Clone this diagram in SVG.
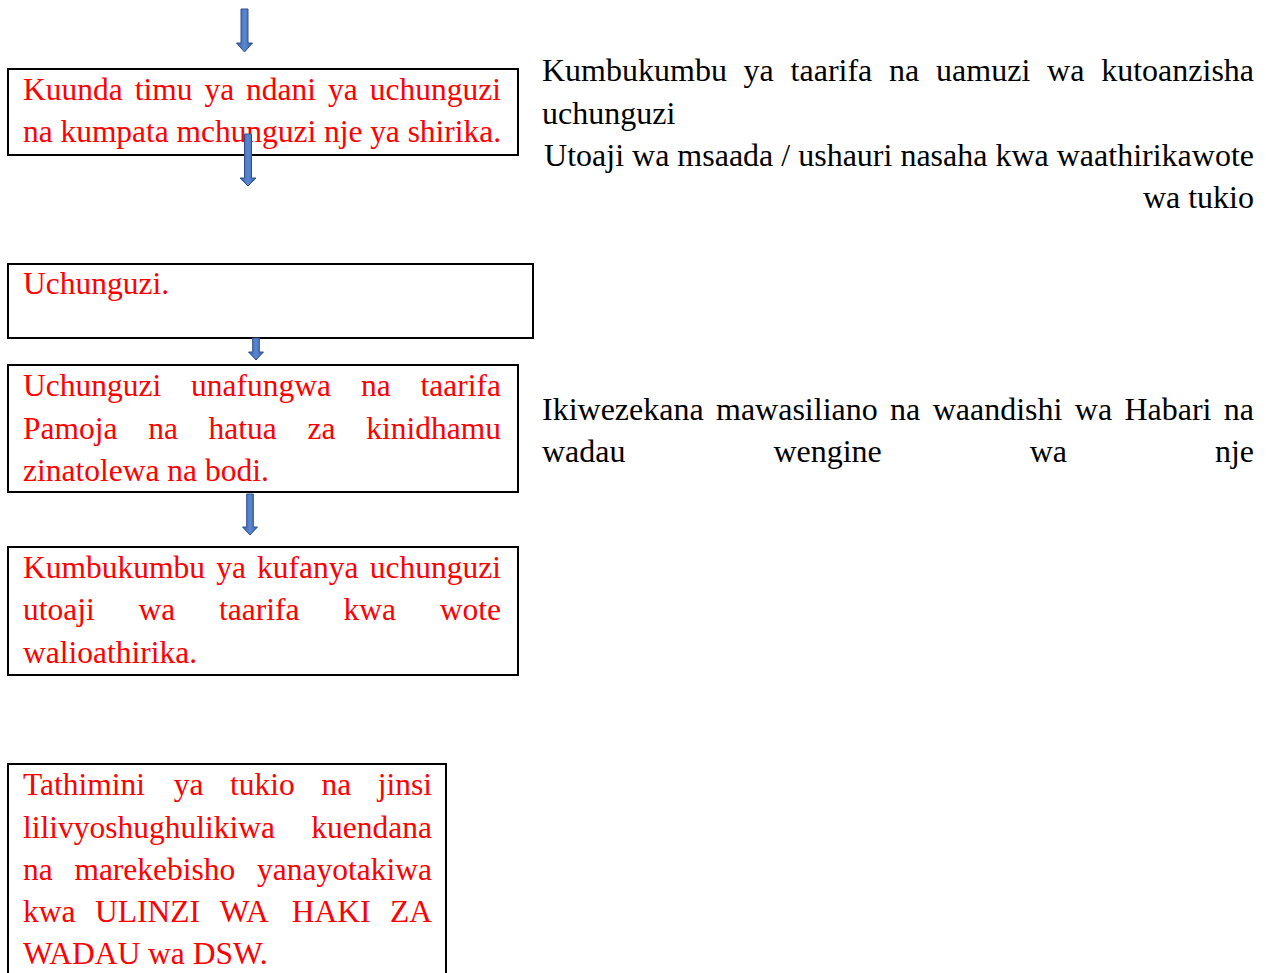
<svg xmlns="http://www.w3.org/2000/svg" width="1266" height="973" viewBox="0 0 1266 973">
<defs>
<linearGradient id="arrowGrad" x1="0" y1="0" x2="1" y2="0">
<stop offset="0" stop-color="#3560ab"/>
<stop offset="0.5" stop-color="#5b86d0"/>
<stop offset="1" stop-color="#3560ab"/>
</linearGradient>
</defs>
<style>
.box{fill:#fff;stroke:#000;stroke-width:2}
.red{font-family:"Liberation Serif","Times New Roman",serif;font-size:31.5px;fill:#ff0000}
.blk{font-family:"Liberation Serif","Times New Roman",serif;font-size:32px;fill:#000}
.arrow{fill:url(#arrowGrad);stroke:#2f528f;stroke-width:1}
</style>
<rect width="1266" height="973" fill="#fff"/>
<g id="node1">
<rect class="box" x="8" y="69" width="510" height="86"/>
<text class="red" y="100"><tspan x="23">Kuunda</tspan><tspan x="134.7">timu</tspan><tspan x="204.4">ya</tspan><tspan x="246.1">ndani</tspan><tspan x="328">ya</tspan><tspan x="369.7">uchunguzi</tspan></text>
<text class="red" x="23" y="142" textLength="478" lengthAdjust="spacing">na kumpata mchunguzi nje ya shirika.</text>
</g>
<g id="node2">
<rect class="box" x="8" y="264" width="525" height="74"/>
<text class="red" x="23" y="294">Uchunguzi.</text>
</g>
<g id="node3">
<rect class="box" x="8" y="365" width="510" height="127"/>
<text class="red" y="396"><tspan x="23">Uchunguzi</tspan><tspan x="191.1">unafungwa</tspan><tspan x="360.9">na</tspan><tspan x="420.5">taarifa</tspan></text>
<text class="red" y="439"><tspan x="23">Pamoja</tspan><tspan x="148.2">na</tspan><tspan x="208.6">hatua</tspan><tspan x="307.5">za</tspan><tspan x="366.2">kinidhamu</tspan></text>
<text class="red" x="23" y="481">zinatolewa na bodi.</text>
</g>
<g id="node4">
<rect class="box" x="8" y="547" width="510" height="128"/>
<text class="red" y="578"><tspan x="23">Kumbukumbu</tspan><tspan x="216.2">ya</tspan><tspan x="257.1">kufanya</tspan><tspan x="369.8">uchunguzi</tspan></text>
<text class="red" y="620"><tspan x="23">utoaji</tspan><tspan x="138.6">wa</tspan><tspan x="219.1">taarifa</tspan><tspan x="343.4">kwa</tspan><tspan x="439.7">wote</tspan></text>
<text class="red" x="23" y="663">walioathirika.</text>
</g>
<g id="node5">
<rect class="box" x="8" y="764" width="438" height="220"/>
<text class="red" y="795"><tspan x="23">Tathimini</tspan><tspan x="173.8">ya</tspan><tspan x="230.1">tukio</tspan><tspan x="321.4">na</tspan><tspan x="377.7">jinsi</tspan></text>
<text class="red" y="838"><tspan x="23">lilivyoshughulikiwa</tspan><tspan x="311.3">kuendana</tspan></text>
<text class="red" y="880"><tspan x="23">na</tspan><tspan x="74.4">marekebisho</tspan><tspan x="257">yanayotakiwa</tspan></text>
<text class="red" y="922"><tspan x="23">kwa</tspan><tspan x="95.1">ULINZI</tspan><tspan x="219.7">WA</tspan><tspan x="291.8">HAKI</tspan><tspan x="390.1">ZA</tspan></text>
<text class="red" x="23" y="964">WADAU wa DSW.</text>
</g>
<g id="note1">
<text class="blk" y="81"><tspan x="542">Kumbukumbu</tspan><tspan x="743.6">ya</tspan><tspan x="790.6">taarifa</tspan><tspan x="889.1">na</tspan><tspan x="936.1">uamuzi</tspan><tspan x="1047.1">wa</tspan><tspan x="1101.2">kutoanzisha</tspan></text>
<text class="blk" x="542" y="124">uchunguzi</text>
</g>
<g id="note2">
<text class="blk" x="1254" y="166" text-anchor="end">Utoaji wa msaada / ushauri nasaha kwa waathirikawote</text>
<text class="blk" x="1254" y="208" text-anchor="end">wa tukio</text>
</g>
<g id="note3">
<text class="blk" y="420"><tspan x="542">Ikiwezekana</tspan><tspan x="716">mawasiliano</tspan><tspan x="890.1">na</tspan><tspan x="932.7">waandishi</tspan><tspan x="1074.8">wa</tspan><tspan x="1124.4">Habari</tspan><tspan x="1223.8">na</tspan></text>
<text class="blk" y="462"><tspan x="542">wadau</tspan><tspan x="773.4">wengine</tspan><tspan x="1029.7">wa</tspan><tspan x="1214.9">nje</tspan></text>
</g>
<g id="connectors">
<path class="arrow" d="M241 9 H248 V43 H252.5 L244.5 52 L236.5 43 H241 Z"/>
<path class="arrow" d="M244.5 134 H251.5 V178 H256 L248 186 L240 178 H244.5 Z"/>
<path class="arrow" d="M252.7 338 H259.3 V352 H263.5 L256 360 L248.5 352 H252.7 Z"/>
<path class="arrow" d="M246.7 494 H253.3 V527 H257.5 L250 535 L242.5 527 H246.7 Z"/>
</g>
</svg>
